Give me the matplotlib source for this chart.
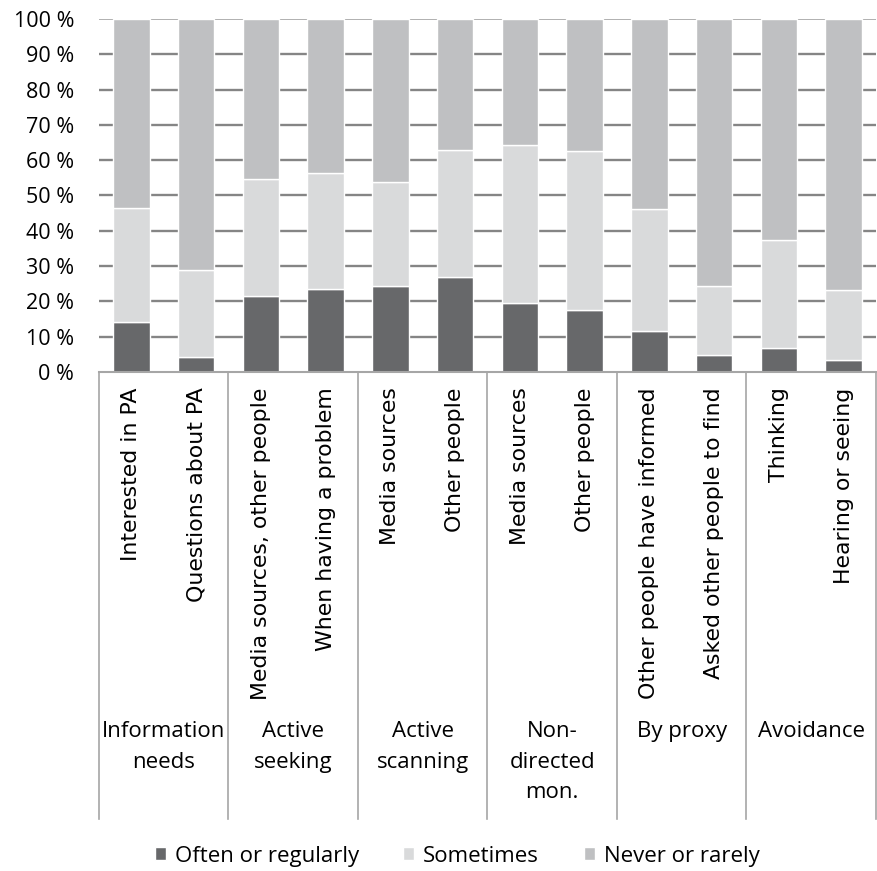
import matplotlib.pyplot as plt
import numpy as np

plt.rcParams['font.family'] = ['DejaVu Sans']

items = ['Interested in PA', 'Questions about PA',
         'Media sources, other people', 'When having a problem',
         'Media sources', 'Other people',
         'Media sources', 'Other people',
         'Other people have informed', 'Asked other people to find',
         'Thinking', 'Hearing or seeing']
groups = ['Information\nneeds', 'Active\nseeking', 'Active\nscanning',
          'Non-\ndirected\nmon.', 'By proxy', 'Avoidance']

# shares in percent, one value per item
often = [14.2, 4.3, 21.5, 23.6, 24.4, 27.0, 19.5, 17.6, 11.6, 4.8, 6.7, 3.4]
sometimes_top = [46.6, 28.9, 54.7, 56.5, 53.9, 62.9, 64.2, 62.7, 46.3, 24.4, 37.4, 23.2]
sometimes = [t - o for t, o in zip(sometimes_top, often)]
never = [100 - t for t in sometimes_top]

c_often = '#67686a'
c_some = '#d9dadb'
c_never = '#bfc0c2'

fig = plt.figure(figsize=(8.77, 8.71), dpi=100)
W, H = 877, 871
ax = fig.add_axes([99 / W, 1 - 372 / H, 777 / W, 353 / H])

x = np.arange(len(items))
bw = 0.56
ax.bar(x, often, bw, color=c_often, edgecolor='white', linewidth=1, zorder=3,
       label='Often or regularly')
ax.bar(x, sometimes, bw, bottom=often, color=c_some, edgecolor='white',
       linewidth=1, zorder=3, label='Sometimes')
ax.bar(x, never, bw, bottom=sometimes_top, color=c_never, edgecolor='white',
       linewidth=1, zorder=3, label='Never or rarely')

ax.set_xlim(-0.5, len(items) - 0.5)
ax.set_ylim(0, 100)
ax.set_yticks(range(0, 101, 10))
ax.set_yticklabels([f'{v} %' for v in range(0, 101, 10)],
                   fontfamily='Open Sans', fontsize=15.5)
for v in range(10, 100, 10):
    ax.axhline(v, color='#858585', linewidth=1.7, zorder=1)
ax.axhline(100, color='#aaaaaa', linewidth=1.3, zorder=1)

for s in ax.spines.values():
    s.set_visible(False)
ax.axhline(0, color='#a6a6a6', linewidth=1.5, zorder=4, clip_on=False)
ax.tick_params(axis='y', length=0, pad=18)
ax.tick_params(axis='x', length=0, pad=11)

ax.set_xticks(x)
ax.set_xticklabels(items, rotation=90, fontsize=15.8, va='top')

# multi-level category axis below the plot
trans = ax.get_xaxis_transform()
for b in np.arange(-0.5, len(items), 2):
    ax.plot([b, b], [0, -1.265], color='#a6a6a6', linewidth=1.2,
            transform=trans, clip_on=False)
for i, g in enumerate(groups):
    ax.text(2 * i + 0.5, -0.99, g, transform=trans, ha='center', va='top',
            fontsize=16, fontfamily='Open Sans', linespacing=1.57)

fig.legend(loc='center', bbox_to_anchor=(457 / W, 1 - 856 / H), ncol=3,
           frameon=False, prop={'family': 'Open Sans', 'size': 16},
           handlelength=0.5, handleheight=0.5, handletextpad=0.4,
           columnspacing=2.0)

fig.savefig('out.png', dpi=100)
